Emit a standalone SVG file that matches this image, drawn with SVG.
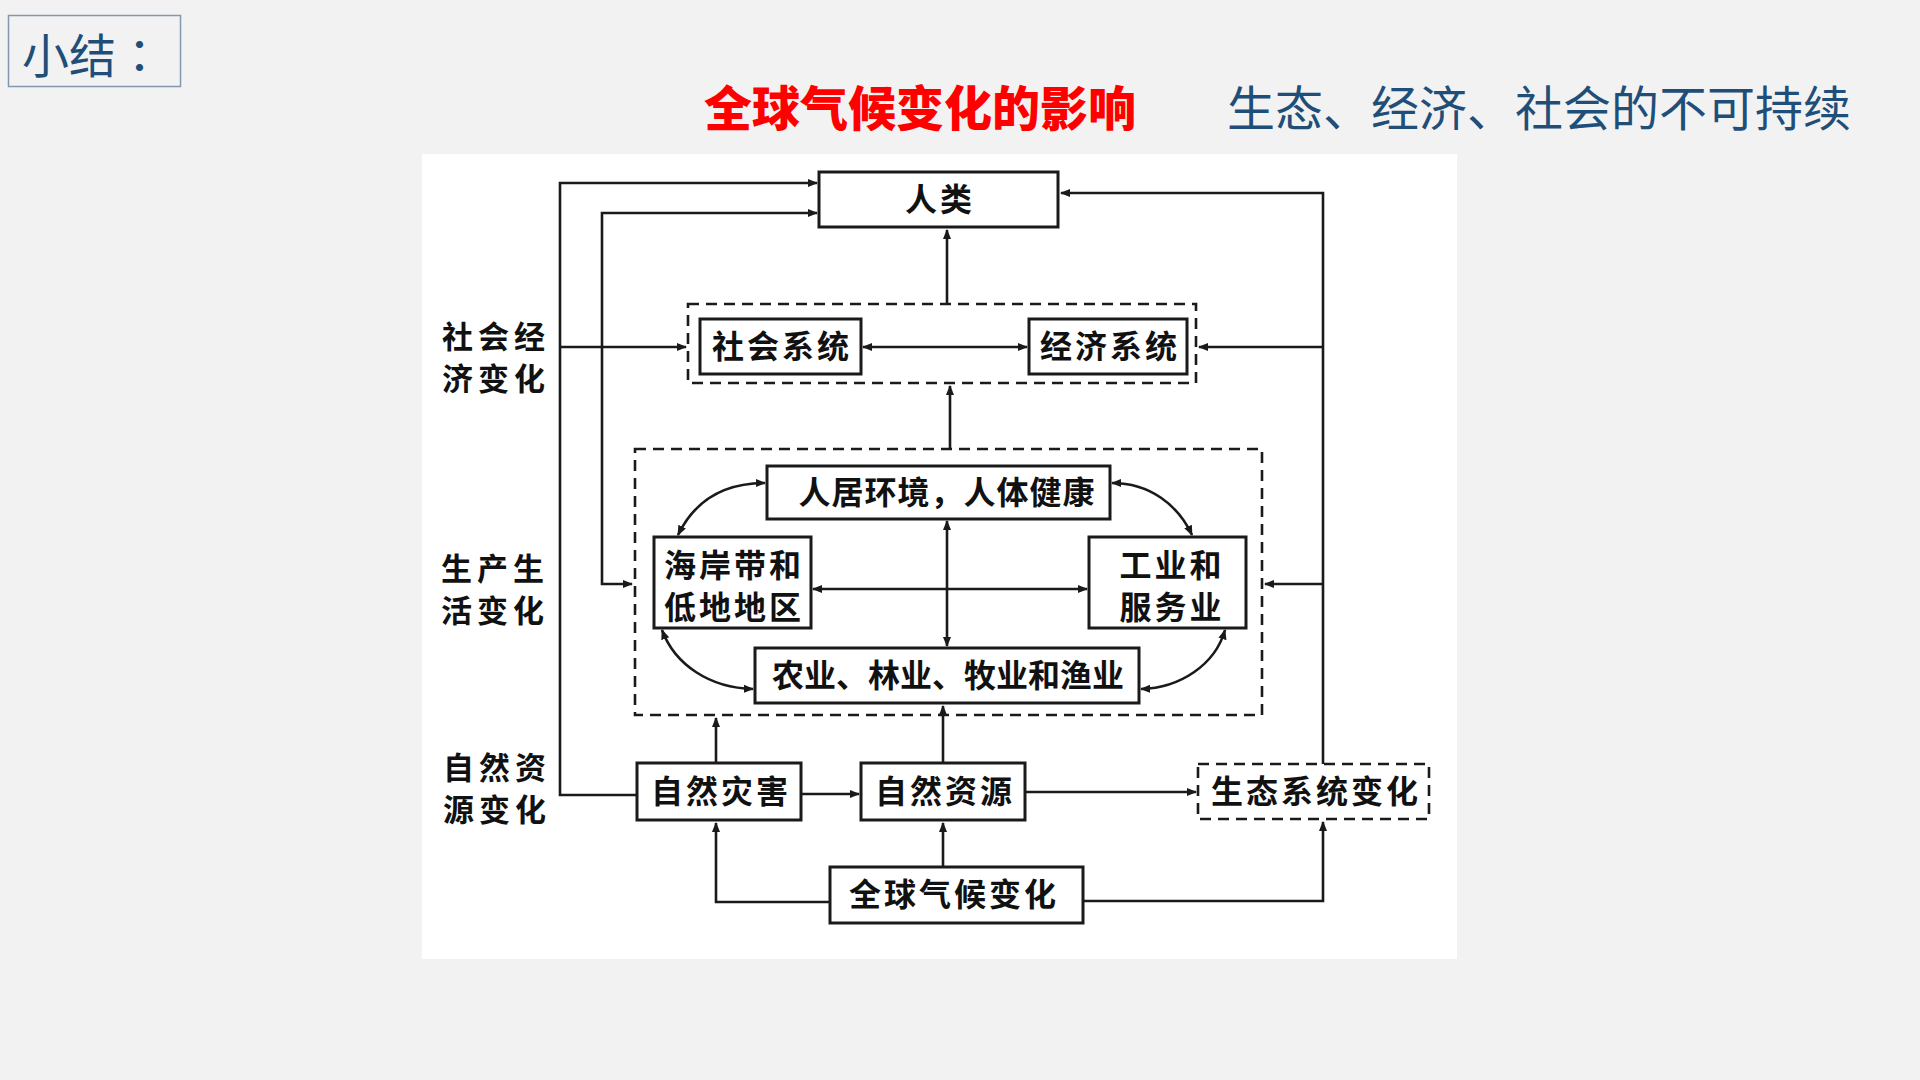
<svg xmlns="http://www.w3.org/2000/svg" width="1920" height="1080" viewBox="0 0 1920 1080">
<style>
.bg{fill:#f2f2f2}
.panel{fill:#ffffff}
.box{fill:#ffffff;stroke:#1a1a1a;stroke-width:3}
.dbox{fill:none;stroke:#1a1a1a;stroke-width:2.6;stroke-dasharray:11 7}
.dboxw{fill:#ffffff;stroke:#1a1a1a;stroke-width:2.6;stroke-dasharray:11 7}
.ln{fill:none;stroke:#1a1a1a;stroke-width:2.6}
.t{font-family:"Noto Sans CJK SC","Noto Sans",sans-serif;font-weight:bold;font-size:32px;fill:#111111;text-anchor:middle;letter-spacing:3px}
.lbl{font-family:"Noto Sans CJK SC","Noto Sans",sans-serif;font-weight:bold;font-size:31px;fill:#111111;text-anchor:middle;letter-spacing:5px}
</style>
<defs>
<marker id="ah" viewBox="0 0 10 10" refX="9" refY="5" markerWidth="4" markerHeight="4" orient="auto-start-reverse" markerUnits="strokeWidth">
<path d="M0,1 L10,5 L0,9 z" fill="#1a1a1a"/>
</marker>
</defs>
<rect class="bg" x="0" y="0" width="1920" height="1080"/>
<g id="summary">
<rect x="8.5" y="15.5" width="172" height="71" fill="none" stroke="#8497b0" stroke-width="1.5"/>
<text x="22" y="73" font-family="'Noto Sans CJK SC','Noto Sans',sans-serif" font-size="47" fill="#1f4e79">小结<tspan font-family="'Noto Sans CJK TC','Noto Sans CJK SC',sans-serif">：</tspan></text>
</g>
<g id="titles">
<text x="704" y="126" font-family="'Noto Sans CJK SC','Noto Sans',sans-serif" font-size="48" font-weight="900" fill="#ff0000">全球气候变化的影响</text>
<text x="1227" y="126" font-family="'Noto Sans CJK SC','Noto Sans',sans-serif" font-size="48" fill="#1f4e79">生态、经济、社会的不可持续</text>
</g>
<rect class="panel" x="422" y="154" width="1035" height="805"/>

<g id="connectors">
<path class="ln" d="M637,795 H560 V183 H817" marker-end="url(#ah)"/>
<path class="ln" d="M632,584 H602 V213 H817" marker-start="url(#ah)" marker-end="url(#ah)"/>
<path class="ln" d="M560,347 H686" marker-end="url(#ah)"/>
<path class="ln" d="M947,304 V230" marker-end="url(#ah)"/>
<path class="ln" d="M863,347 H1027" marker-start="url(#ah)" marker-end="url(#ah)"/>
<path class="ln" d="M1323,764 V193 H1061" marker-end="url(#ah)"/>
<path class="ln" d="M1323,347 H1199" marker-end="url(#ah)"/>
<path class="ln" d="M1323,584 H1265" marker-end="url(#ah)"/>
<path class="ln" d="M950,449 V386" marker-end="url(#ah)"/>
<path class="ln" d="M947,521 V646" marker-start="url(#ah)" marker-end="url(#ah)"/>
<path class="ln" d="M813,589 H1087" marker-start="url(#ah)" marker-end="url(#ah)"/>
<path class="ln" d="M678,535 C695,500 725,483 765,483" marker-start="url(#ah)" marker-end="url(#ah)"/>
<path class="ln" d="M1112,483 C1150,483 1178,505 1192,535" marker-start="url(#ah)" marker-end="url(#ah)"/>
<path class="ln" d="M662,630 C675,665 710,688 753,689" marker-start="url(#ah)" marker-end="url(#ah)"/>
<path class="ln" d="M1225,630 C1215,665 1180,688 1141,689" marker-start="url(#ah)" marker-end="url(#ah)"/>
<path class="ln" d="M716,763 V718" marker-end="url(#ah)"/>
<path class="ln" d="M943,763 V706" marker-end="url(#ah)"/>
<path class="ln" d="M801,794 H859" marker-end="url(#ah)"/>
<path class="ln" d="M1025,792 H1196" marker-end="url(#ah)"/>
<path class="ln" d="M830,902 H716 V823" marker-end="url(#ah)"/>
<path class="ln" d="M943,867 V823" marker-end="url(#ah)"/>
<path class="ln" d="M1083,901 H1323 V822" marker-end="url(#ah)"/>
</g>

<g id="human">
<rect class="box" x="819" y="172" width="239" height="55"/>
<text class="t" x="940" y="211">人类</text>
</g>
<g id="socio-economic-group">
<rect class="dbox" x="688" y="304" width="508" height="79"/>
</g>
<g id="social-system">
<rect class="box" x="700" y="319" width="161" height="55"/>
<text class="t" x="782" y="358">社会系统</text>
</g>
<g id="economic-system">
<rect class="box" x="1029" y="319" width="158" height="55"/>
<text class="t" x="1110" y="358">经济系统</text>
</g>
<g id="production-life-group">
<rect class="dbox" x="635" y="449" width="627" height="266"/>
</g>
<g id="settlement-health">
<rect class="box" x="767" y="466" width="343" height="53"/>
<text class="t" x="947" y="504" style="letter-spacing:1px">人居环境，人体健康</text>
</g>
<g id="coast-lowland">
<rect class="box" x="654" y="537" width="157" height="91"/>
<text class="t" x="734" y="577">海岸带和<tspan x="734" y="619">低地地区</tspan></text>
</g>
<g id="industry-service">
<rect class="box" x="1089" y="537" width="157" height="91"/>
<text class="t" x="1172" y="577">工业和<tspan x="1172" y="619">服务业</tspan></text>
</g>
<g id="agriculture">
<rect class="box" x="755" y="648" width="384" height="55"/>
<text class="t" x="948" y="687" style="letter-spacing:0px">农业、林业、牧业和渔业</text>
</g>
<g id="natural-disaster">
<rect class="box" x="637" y="763" width="164" height="57"/>
<text class="t" x="721" y="803">自然灾害</text>
</g>
<g id="natural-resource">
<rect class="box" x="861" y="763" width="164" height="57"/>
<text class="t" x="945" y="803">自然资源</text>
</g>
<g id="ecosystem-change">
<rect class="dboxw" x="1198" y="764" width="231" height="55"/>
<text class="t" x="1316" y="803">生态系统变化</text>
</g>
<g id="global-climate-change">
<rect class="box" x="830" y="867" width="253" height="56"/>
<text class="t" x="954" y="906">全球气候变化</text>
</g>
<g id="label-socio-economic">
<text class="lbl" x="496" y="348">社会经<tspan x="496" y="390">济变化</tspan></text>
</g>
<g id="label-production-life">
<text class="lbl" x="495" y="580">生产生<tspan x="495" y="622">活变化</tspan></text>
</g>
<g id="label-natural-resource">
<text class="lbl" x="497" y="779">自然资<tspan x="497" y="821">源变化</tspan></text>
</g>
</svg>
